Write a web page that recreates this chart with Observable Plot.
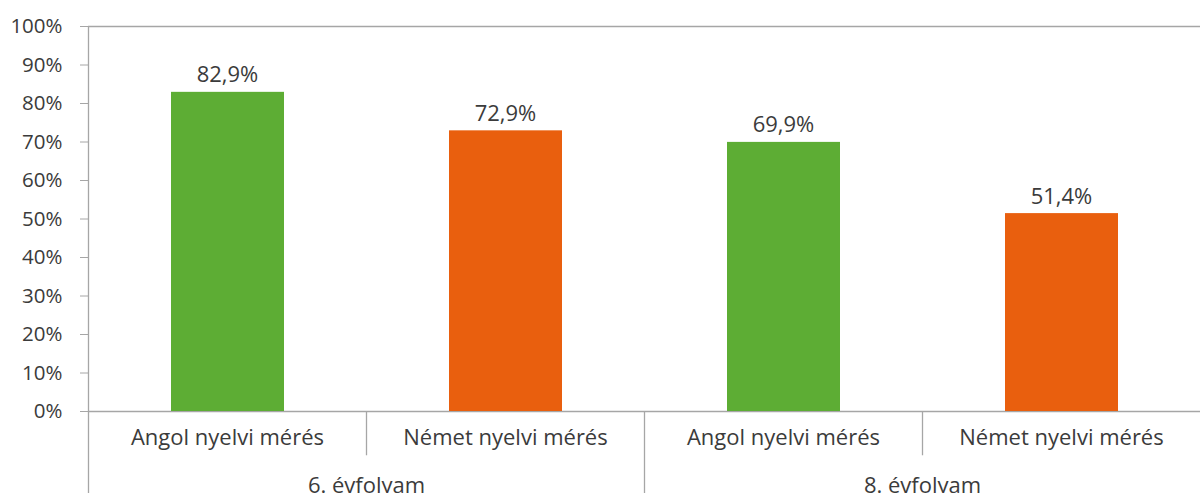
<!DOCTYPE html>
<html>
<head>
<meta charset="utf-8">
<script src="https://cdn.jsdelivr.net/npm/d3@7"></script>
<script src="https://cdn.jsdelivr.net/npm/@observablehq/plot@0.6"></script>
<style>
  html, body { margin: 0; padding: 0; background: #fff; }
  #chart svg { display: block; }
</style>
</head>
<body>
<div id="chart"></div>
<script>
const grades = ["6. évfolyam", "6. évfolyam", "8. évfolyam", "8. évfolyam"];
const measures = ["Angol nyelvi mérés", "Német nyelvi mérés", "Angol nyelvi mérés", "Német nyelvi mérés"];
const values = [82.9, 72.9, 69.9, 51.4];
const yTicks = [0, 10, 20, 30, 40, 50, 60, 70, 80, 90, 100];
const colors = { "Angol nyelvi mérés": "#5DAD34", "Német nyelvi mérés": "#E95F0E" };

const data = values.map((v, i) => ({ key: i + "|" + measures[i], grade: grades[i], measure: measures[i], value: v }));
const keys = data.map(d => d.key);
const groupStarts = data.filter((d, i) => i === 0 || grades[i] !== grades[i - 1]);
const innerStarts = data.filter((d, i) => i > 0 && grades[i] === grades[i - 1]);

const W = 1200, H = 493, ML = 88, MR = 0, MT = 26, MB = 82;
const step = (W - ML - MR) / keys.length;
const groupSpan = grades.filter(g => g === grades[0]).length;
const fontFamily = "'Open Sans', sans-serif";
const textColor = "#3B3B3B";
const lineColor = "#A6A6A6";

const chart = Plot.plot({
  width: W, height: H,
  marginLeft: ML, marginRight: MR, marginTop: MT, marginBottom: MB,
  style: { fontFamily, fontSize: "20px", color: textColor, background: "#fff" },
  x: { domain: keys, padding: 0, axis: null },
  y: { domain: [0, 100], axis: null },
  marks: [
    Plot.ruleY([0, 100], { stroke: lineColor, strokeWidth: 1.3 }),
    Plot.barY(data, { x: "key", y: "value", fill: d => colors[d.measure], insetLeft: 83, insetRight: 82 }),
    Plot.text(data, { x: "key", y: "value", text: d => d.value.toFixed(1).replace(".", ",") + "%", dy: -17, fill: textColor, fontSize: 22 }),
    Plot.axisY({ ticks: yTicks, tickFormat: d => d + "%", tickSize: 8, tickPadding: 18, stroke: lineColor, fill: textColor, fontSize: 20.5, label: null }),
    // left axis line, extending into the category area
    Plot.ruleX([keys[0]], { x: d => d, dx: -step / 2, y1: -21.5, y2: 100, stroke: lineColor, strokeWidth: 1.3 }),
    // group separators
    Plot.ruleX(groupStarts.slice(1), { x: "key", dx: -step / 2, y1: -21.5, y2: 0, stroke: lineColor, strokeWidth: 1.3 }),
    // inner category separators
    Plot.ruleX(innerStarts, { x: "key", dx: -step / 2, y1: -11.5, y2: 0, stroke: lineColor, strokeWidth: 1.3 }),
    // category labels
    Plot.axisX({ tickSize: 0, tickPadding: 18, tickFormat: k => k.split("|")[1], fill: textColor, fontSize: 22, label: null }),
    // group labels
    Plot.text(groupStarts, { x: "key", y: 0, text: "grade", fill: textColor, fontSize: 22, dx: step * (groupSpan - 1) / 2, dy: 74 })
  ]
});

document.getElementById("chart").append(chart);
</script>
</body>
</html>
